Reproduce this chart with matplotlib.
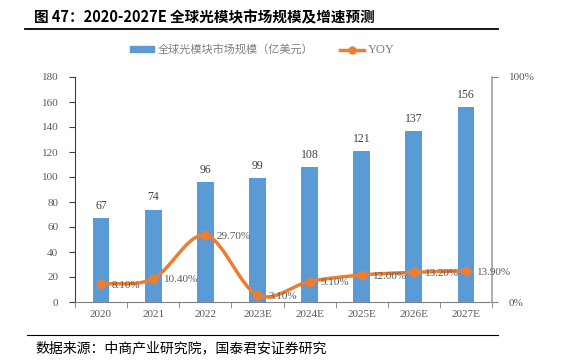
import numpy as np
import matplotlib
matplotlib.use("Agg")
import matplotlib.pyplot as plt
from matplotlib.lines import Line2D
from matplotlib.patches import Patch

categories = ["2020", "2021", "2022", "2023E", "2024E", "2025E", "2026E", "2027E"]
market_size = [67, 74, 96, 99, 108, 121, 137, 156]
yoy = [8.1, 10.4, 29.7, 3.1, 9.1, 12.0, 13.2, 13.9]
yoy_labels = ["8.10%", "10.40%", "29.70%", "3.10%", "9.10%", "12.00%", "13.20%", "13.90%"]
left_ticks = list(range(0, 181, 20))

CJK = ["Noto Sans CJK SC", "DejaVu Sans"]
SERIF = ["Liberation Serif", "Noto Sans CJK SC"]
BAR_C = "#5B9BD5"
LINE_C = "#ED7D31"
TXT = "#595959"

fig = plt.figure(figsize=(5.78, 3.62), dpi=100)
W, H = 578, 362
ax = fig.add_axes([75 / W, 1 - 302 / H, (492 - 75) / W, (302 - 77) / H])
ax2 = ax.twinx()

x = np.arange(len(categories))
ax.bar(x, market_size, width=0.32, color=BAR_C, zorder=2)
for xi, v in zip(x, market_size):
    ax.text(xi, v + 5, str(v), ha="center", va="bottom", fontsize=8.5,
            color="#404040", family=SERIF)

ax.set_xlim(-0.5, len(categories) - 0.5)
ax.set_ylim(0, 180)
ax.set_yticks(left_ticks)
ax.set_yticklabels([str(t) for t in left_ticks], family=SERIF, fontsize=8, color=TXT)
ax.set_xticks(x)
ax.set_xticklabels(categories, family=SERIF, fontsize=8, color=TXT)
ax.tick_params(axis="x", length=0, pad=6)
ax.set_xticks(np.arange(-0.5, len(categories), 1), minor=True)
ax.tick_params(axis="x", which="minor", length=4, color="#808080", direction="out")
ax.tick_params(axis="y", length=4, color="#404040", direction="out", pad=8)
ax.spines["top"].set_visible(False)
ax.spines["left"].set_color("#404040")
ax.spines["bottom"].set_color("#808080")
ax.spines["right"].set_visible(False)

# smoothed line (Catmull-Rom through data points)
yv = np.array(yoy) / 100.0
px = np.concatenate([[x[0] - (x[1] - x[0])], x, [x[-1] + (x[-1] - x[-2])]]).astype(float)
py = np.concatenate([[yv[0]], yv, [yv[-1]]])
sx, sy = [], []
for i in range(1, len(px) - 2):
    t = np.linspace(0, 1, 30)
    p0, p1, p2, p3 = [np.array([px[j], py[j]]) for j in (i - 1, i, i + 1, i + 2)]
    m1 = (p2 - p0) / 2
    m2 = (p3 - p1) / 2
    h00 = 2 * t**3 - 3 * t**2 + 1
    h10 = t**3 - 2 * t**2 + t
    h01 = -2 * t**3 + 3 * t**2
    h11 = t**3 - t**2
    seg = (np.outer(h00, p1) + np.outer(h10, m1) + np.outer(h01, p2) + np.outer(h11, m2))
    sx.extend(seg[:, 0]); sy.extend(seg[:, 1])
ax2.plot(sx, sy, color=LINE_C, lw=2.5, zorder=3, solid_capstyle="round")
ax2.plot(x, yv, "o", color=LINE_C, ms=6, zorder=4)
for xi, v, lab in zip(x, yv, yoy_labels):
    ax2.text(xi + 0.21, v - 0.006, lab, ha="left", va="center", fontsize=8,
             color=TXT, family=SERIF, zorder=5)

ax2.set_ylim(0, 1)
ax2.set_yticks([0, 1])
ax2.set_yticklabels(["0%", "100%"], family=SERIF, fontsize=8, color=TXT)
ax2.tick_params(axis="y", length=4, color="#808080", direction="out", pad=8)
for s in ["top", "left", "bottom"]:
    ax2.spines[s].set_visible(False)
ax2.spines["right"].set_color("#A0A0A0")
ax2.spines["right"].set_linewidth(1.2)
ax.set_zorder(ax2.get_zorder() - 1)
ax.patch.set_visible(False)

# legend
handles = [Patch(color=BAR_C), Line2D([0], [0], color=LINE_C, lw=2.5, marker="o", ms=5)]
leg = fig.legend(handles, ["全球光模块市场规模（亿美元）", "YOY"], loc="center",
                 bbox_to_anchor=(262 / W, 1 - 50 / H), ncol=2, frameon=False,
                 prop={"family": CJK, "size": 8}, handlelength=2.2, handleheight=0.45,
                 columnspacing=2.4, handletextpad=0.3)
for t in leg.get_texts():
    t.set_color("#7F7F7F")
leg.get_texts()[1].set_family(SERIF)
leg.get_texts()[1].set_fontsize(9)

# title and rules
fig.text(34 / W, 1 - 17 / H, "图 47：2020-2027E 全球光模块市场规模及增速预测",
         ha="left", va="center", fontsize=10.5, fontweight="bold", family=CJK, color="black")
fig.add_artist(Line2D([25 / W, 498 / W], [1 - 29 / H, 1 - 29 / H], color="black", lw=1.3))
fig.add_artist(Line2D([27 / W, 498 / W], [1 - 335 / H, 1 - 335 / H], color="black", lw=0.8))
fig.text(35 / W, 1 - 348 / H, "数据来源：中商产业研究院，国泰君安证券研究",
         ha="left", va="center", fontsize=10, family=CJK, color="black")

fig.savefig("out.png", dpi=100)
